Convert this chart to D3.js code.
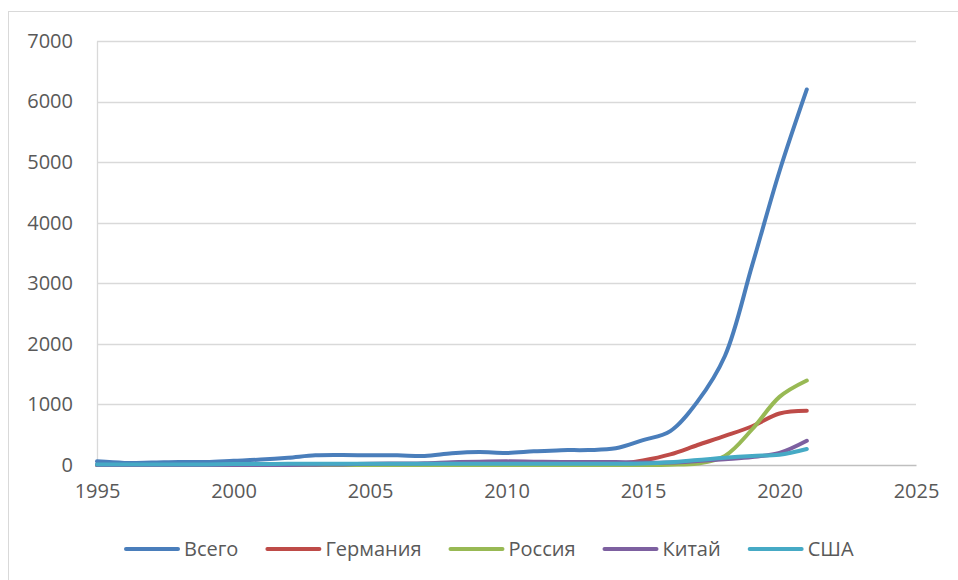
<!DOCTYPE html>
<html>
<head>
<meta charset="utf-8">
<script src="https://cdn.jsdelivr.net/npm/d3@7"></script>
<style>
  body { margin: 0; background: #fff; }
  text { font-family: "Open Sans", "Liberation Sans", sans-serif; fill: #595959; }
</style>
</head>
<body>
<div class="chart"></div>
<script>
// Patents by country, 1995-2021
var years = d3.range(1995, 2022);
var seriesNames = ["Всего", "Германия", "Россия", "Китай", "США"];
var seriesColors = ["#4a7ebb", "#be4b48", "#98b954", "#7d60a0", "#46aac5"];

var total   = [60, 35, 40, 50, 50, 70, 90, 120, 160, 165, 160, 160, 148, 193, 214, 198, 225, 245, 247, 275, 410, 560, 1050, 1800, 3300, 4850, 6200];
var germany = [0, 0, 0, 0, 0, 0, 0, 0, 0, 0, 0, 0, 0, 0, 0, 0, 0, 0, 5, 15, 75, 175, 330, 480, 640, 850, 895];
var russia  = [0, 0, 0, 0, 0, 0, 0, 0, 0, 0, 0, 0, 0, 0, 0, 0, 0, 0, 0, 0, 0, 5, 25, 150, 590, 1125, 1395];
var china   = [0, 0, 0, 0, 0, 0, 0, 0, 5, 10, 20, 25, 30, 45, 55, 60, 55, 50, 50, 50, 40, 40, 65, 95, 130, 200, 400];
var usa     = [10, 10, 10, 10, 10, 15, 15, 20, 20, 20, 20, 20, 20, 20, 20, 20, 20, 20, 20, 20, 25, 44, 82, 121, 150, 170, 265];

var yTicks = [0, 1000, 2000, 3000, 4000, 5000, 6000, 7000];
var xTicks = [1995, 2000, 2005, 2010, 2015, 2020, 2025];

var allSeries = [total, germany, russia, china, usa];

var svgWidth = 958;
var svgHeight = 580;
var margin = {top: 41, right: 42, bottom: 115, left: 97};
var width = svgWidth - margin.left - margin.right;
var height = svgHeight - margin.top - margin.bottom;

var svg = d3.select(".chart")
    .append("svg")
    .attr("width", svgWidth)
    .attr("height", svgHeight);

// chart frame
svg.append("rect")
    .attr("x", 8.5)
    .attr("y", 11.5)
    .attr("width", 960)
    .attr("height", 600)
    .attr("fill", "none")
    .attr("stroke", "#d9d9d9");

var chartGroup = svg.append("g")
    .attr("transform", `translate(${margin.left}, ${margin.top})`);

var x = d3.scaleLinear().domain([1995, 2025]).range([0, width]);
var y = d3.scaleLinear().domain([0, 7000]).range([height, 0]);

// gridlines
chartGroup.append("g")
    .selectAll("line")
    .data(yTicks.filter(d => d > 0))
    .join("line")
    .attr("x1", 0)
    .attr("x2", width)
    .attr("y1", d => Math.round(y(d)) + 0.5)
    .attr("y2", d => Math.round(y(d)) + 0.5)
    .attr("stroke", "#d9d9d9")
    .attr("stroke-width", 1.3);

// y axis
var leftAxis = d3.axisLeft(y).tickValues(yTicks).tickFormat(d3.format("d")).tickSize(0).tickPadding(24);
var yAxisG = chartGroup.append("g").call(leftAxis);
yAxisG.select(".domain").attr("stroke", "#d9d9d9").attr("stroke-width", 1.3);
yAxisG.selectAll("text").style("font-size", "20px").attr("fill", "#595959");

// x axis
var bottomAxis = d3.axisBottom(x).tickValues(xTicks).tickFormat(d3.format("d")).tickSize(0).tickPadding(19);
var xAxisG = chartGroup.append("g")
    .attr("transform", `translate(0, ${height})`)
    .call(bottomAxis);
xAxisG.select(".domain").attr("stroke", "#bfbfbf").attr("stroke-width", 1.5);
xAxisG.selectAll("text").style("font-size", "20px").attr("fill", "#595959");

// lines
var line = d3.line()
    .x((d, i) => x(years[i]))
    .y(d => y(d))
    .curve(d3.curveCatmullRom.alpha(0.5));

chartGroup.selectAll(".series")
    .data(allSeries)
    .join("path")
    .attr("class", "series")
    .attr("d", d => line(d))
    .attr("fill", "none")
    .attr("stroke", (d, i) => seriesColors[i])
    .attr("stroke-width", 4)
    .attr("stroke-linecap", "round")
    .attr("stroke-linejoin", "round");

// legend
var legend = svg.append("g");
var items = legend.selectAll("g")
    .data(seriesNames)
    .join("g");

items.append("line")
    .attr("x1", 0)
    .attr("x2", 52)
    .attr("y1", 0)
    .attr("y2", 0)
    .attr("stroke", (d, i) => seriesColors[i])
    .attr("stroke-width", 4)
    .attr("stroke-linecap", "round");

items.append("text")
    .attr("x", 58)
    .attr("dy", "0.35em")
    .style("font-size", "20px")
    .text(d => d);

var gap = 29;
var offsets = [];
var cursor = 126;
items.each(function(d, i) {
    var w = 58 + this.querySelector("text").getComputedTextLength();
    offsets.push(cursor);
    cursor += w + gap;
});
items.attr("transform", (d, i) => `translate(${offsets[i]}, 549)`);
</script>
</body>
</html>
